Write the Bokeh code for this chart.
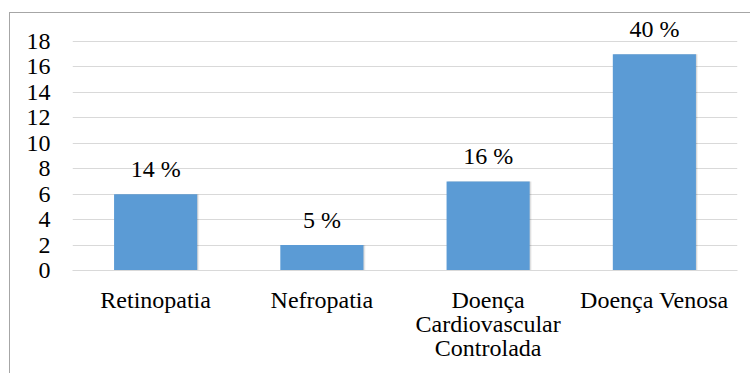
from bokeh.plotting import figure
from bokeh.models import ColumnDataSource, FactorRange, Range1d, FixedTicker
from bokeh.transform import dodge
from bokeh.embed import file_html
from bokeh.resources import INLINE
from bokeh.core.properties import value

categories = ["Retinopatia", "Nefropatia", "Doença\nCardiovascular\nControlada", "Doença Venosa"]
counts = [6, 2, 7, 17]
percent_labels = ["14 %", "5 %", "16 %", "40 %"]
y_ticks = [0, 2, 4, 6, 8, 10, 12, 14, 16, 18]

FONT = "Liberation Serif"
BAR = "#5B9BD5"
GRID = "#D9D9D9"

src = ColumnDataSource(dict(cat=categories, n=counts, lab=percent_labels))

p = figure(
    width=741, height=361,
    x_range=FactorRange(factors=categories),
    y_range=Range1d(0, 19.97),
    output_backend="svg", toolbar_location=None,
    min_border_left=62, min_border_right=14, min_border_top=3, min_border_bottom=104,
)
p.styles = {"margin-left": "9px", "margin-top": "12px",
            "border-left": "1px solid #A6A6A6", "border-top": "1px solid #A6A6A6"}

# soft shadow
p.vbar(x=dodge("cat", 0.012, range=p.x_range), top="n", width=0.5, bottom=0, source=src,
       fill_color="black", fill_alpha=0.06, line_color=None)
p.vbar(x=dodge("cat", 0.006, range=p.x_range), top="n", width=0.5, bottom=0, source=src,
       fill_color="black", fill_alpha=0.10, line_color=None)
p.vbar(x="cat", top="n", width=0.5, bottom=0, source=src, fill_color=BAR, line_color=None)
p.text(x="cat", y="n", text="lab", source=src, text_align="center", text_baseline="bottom",
       y_offset=-12, text_font=value(FONT), text_font_size="24px", text_color="black")

p.outline_line_color = None
p.xgrid.grid_line_color = None
p.ygrid.grid_line_color = GRID
p.ygrid.grid_line_width = 1
p.yaxis.ticker = FixedTicker(ticks=y_ticks)

p.yaxis.axis_line_color = None
p.yaxis.major_tick_line_color = None
p.yaxis.minor_tick_line_color = None
p.yaxis.major_label_standoff = 16
p.yaxis.major_label_text_font = FONT
p.yaxis.major_label_text_font_size = "24px"
p.yaxis.major_label_text_color = "black"

p.xaxis.axis_line_color = GRID
p.xaxis.major_tick_line_color = None
p.xaxis.minor_tick_line_color = None
p.xaxis.major_label_standoff = 10
p.xaxis.major_label_text_font = FONT
p.xaxis.major_label_text_font_size = "24px"
p.xaxis.major_label_text_color = "black"
p.xaxis.major_label_text_line_height = 0.93

p.background_fill_color = "white"
p.border_fill_color = "white"

open("out.html", "w").write(file_html(p, INLINE))
